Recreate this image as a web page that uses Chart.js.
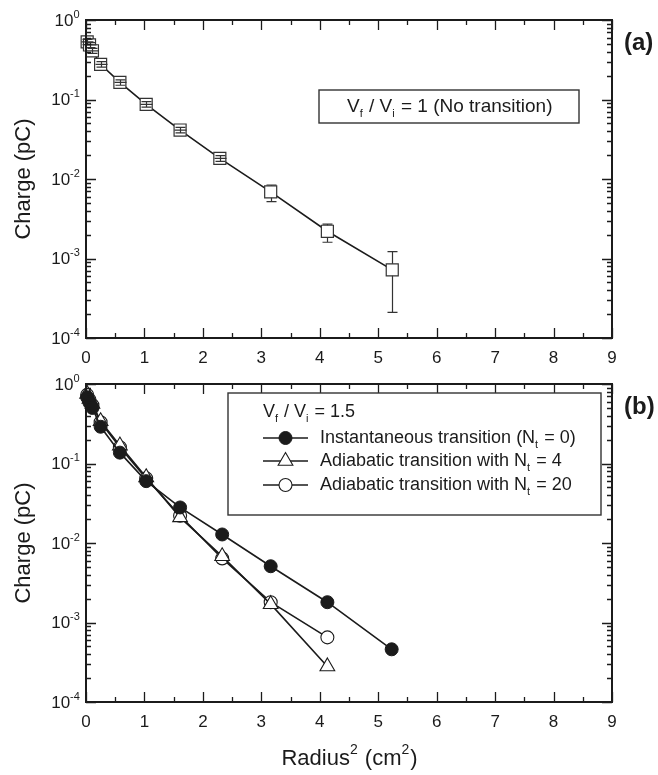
<!DOCTYPE html>
<html>
<head>
<meta charset="utf-8">
<script src="https://cdn.jsdelivr.net/npm/chart.js@4/dist/chart.umd.min.js"></script>
<style>
  body { margin: 0; background: #fff; }
  #wrap { position: relative; width: 658px; height: 775px; }
  canvas { position: absolute; left: 0; top: 0; }
</style>
</head>
<body>
<div id="wrap">
  <canvas id="chart-a" width="658" height="775"></canvas>
  <canvas id="chart-b" width="658" height="775"></canvas>
</div>
<script>
// panel (a): Vf/Vi = 1, no transition
const radiusSqA = [0.02, 0.06, 0.11, 0.25, 0.58, 1.03, 1.61, 2.29, 3.16, 4.13, 5.24];
const chargeA   = [0.53, 0.485, 0.41, 0.277, 0.164, 0.087, 0.0413, 0.0182, 0.0069, 0.0022, 0.00072];
const errLowA   = [0.49, 0.45, 0.38, 0.255, 0.151, 0.080, 0.038, 0.0167, 0.0052, 0.0016, 0.00021];
const errHighA  = [0.57, 0.52, 0.44, 0.30, 0.177, 0.094, 0.0447, 0.0197, 0.0084, 0.0027, 0.00122];

// panel (b): Vf/Vi = 1.5
const radiusSqB = [0.02, 0.06, 0.11, 0.25, 0.58, 1.03, 1.61, 2.33, 3.16, 4.13, 5.23];
const instantB  = [0.68, 0.58, 0.50, 0.29, 0.137, 0.060, 0.028, 0.0128, 0.0051, 0.0018, 0.00046];
const adiab4B   = [0.75, 0.65, 0.56, 0.34, 0.168, 0.067, 0.021, 0.0068, 0.0017, 0.00028];
const adiab20B  = [0.73, 0.63, 0.54, 0.33, 0.16, 0.065, 0.022, 0.0064, 0.0018, 0.00065];

const xTicks = [0, 1, 2, 3, 4, 5, 6, 7, 8, 9];
const yExponents = [-4, -3, -2, -1, 0];

const INK = '#1b1b1b';
const FONT = '"Liberation Sans", Arial, sans-serif';

function pts(xs, ys) {
  return ys.map((y, i) => ({ x: xs[i], y: y }));
}

// draws a run of text pieces; pieces are [text, 'sub'|'sup'|'']
function drawRich(ctx, x, y, pieces, size) {
  ctx.textBaseline = 'middle';
  ctx.textAlign = 'left';
  pieces.forEach(([txt, kind]) => {
    let fs = size, dy = 0;
    if (kind === 'sub') { fs = Math.round(size * 0.6); dy = size * 0.38; }
    if (kind === 'sup') { fs = Math.round(size * 0.62); dy = -size * 0.38; }
    ctx.font = fs + 'px ' + FONT;
    ctx.fillText(txt, x, y + dy);
    x += ctx.measureText(txt).width + (kind ? 1 : 0);
  });
  return x;
}

function richWidth(ctx, pieces, size) {
  let w = 0;
  pieces.forEach(([txt, kind]) => {
    const fs = kind ? Math.round(size * 0.6) : size;
    ctx.font = fs + 'px ' + FONT;
    w += ctx.measureText(txt).width + (kind ? 1 : 0);
  });
  return w;
}

// frame, inward ticks on all four sides, tick labels and titles
const axesPlugin = {
  id: 'axesFrame',
  afterDraw(chart, args, opts) {
    const ctx = chart.ctx;
    const xs = chart.scales.x, ys = chart.scales.y;
    const a = chart.chartArea;
    ctx.save();
    ctx.strokeStyle = INK;
    ctx.fillStyle = INK;

    ctx.lineWidth = 1.3;
    ctx.beginPath();
    // x ticks (majors at integers, minors at halves)
    xTicks.forEach((v, i) => {
      const px = Math.round(xs.getPixelForValue(v)) + 0.5;
      ctx.moveTo(px, a.bottom); ctx.lineTo(px, a.bottom - 10);
      ctx.moveTo(px, a.top); ctx.lineTo(px, a.top + 10);
      if (i < xTicks.length - 1) {
        const mx = Math.round(xs.getPixelForValue(v + 0.5)) + 0.5;
        ctx.moveTo(mx, a.bottom); ctx.lineTo(mx, a.bottom - 5);
        ctx.moveTo(mx, a.top); ctx.lineTo(mx, a.top + 5);
      }
    });
    // y ticks (decades and 2..9 minors)
    yExponents.forEach((e, i) => {
      const py = Math.round(ys.getPixelForValue(Math.pow(10, e))) + 0.5;
      ctx.moveTo(a.left, py); ctx.lineTo(a.left + 10, py);
      ctx.moveTo(a.right, py); ctx.lineTo(a.right - 10, py);
      if (i < yExponents.length - 1) {
        for (let m = 2; m <= 9; m++) {
          const my = Math.round(ys.getPixelForValue(m * Math.pow(10, e))) + 0.5;
          ctx.moveTo(a.left, my); ctx.lineTo(a.left + 5, my);
          ctx.moveTo(a.right, my); ctx.lineTo(a.right - 5, my);
        }
      }
    });
    ctx.stroke();

    ctx.lineWidth = 2;
    ctx.strokeRect(a.left, a.top, a.right - a.left, a.bottom - a.top);

    // x tick labels
    ctx.font = '17px ' + FONT;
    ctx.textAlign = 'center';
    ctx.textBaseline = 'middle';
    xTicks.forEach(v => {
      ctx.fillText(String(v), xs.getPixelForValue(v), a.bottom + 20);
    });

    // y tick labels 10^n
    yExponents.forEach(e => {
      const py = ys.getPixelForValue(Math.pow(10, e));
      const pieces = [['10', ''], [String(e), 'sup']];
      const w = richWidth(ctx, pieces, 17);
      drawRich(ctx, a.left - 6 - w, py + 1, pieces, 17);
    });

    // y title
    ctx.save();
    ctx.translate(24, (a.top + a.bottom) / 2);
    ctx.rotate(-Math.PI / 2);
    ctx.font = '22px ' + FONT;
    ctx.textAlign = 'center';
    ctx.textBaseline = 'middle';
    ctx.fillText('Charge (pC)', 0, 0);
    ctx.restore();

    // x title
    if (opts.xTitle) {
      const pieces = [['Radius', ''], ['2', 'sup'], [' (cm', ''], ['2', 'sup'], [')', '']];
      const w = richWidth(ctx, pieces, 22);
      drawRich(ctx, (a.left + a.right) / 2 - w / 2, a.bottom + 57, pieces, 22);
    }

    // panel tag
    ctx.font = 'bold 24px ' + FONT;
    ctx.textAlign = 'left';
    ctx.textBaseline = 'middle';
    ctx.fillText(opts.tag, a.right + 12, a.top + 23);
    ctx.restore();
  }
};

// vertical error bars for panel (a)
const errorBarPlugin = {
  id: 'errorBars',
  afterDatasetsDraw(chart, args, opts) {
    if (!opts.low) return;
    const ctx = chart.ctx;
    const xs = chart.scales.x, ys = chart.scales.y;
    const half = 6;
    ctx.save();
    ctx.strokeStyle = '#333';
    ctx.lineWidth = 1.2;
    ctx.beginPath();
    opts.xs.forEach((xv, i) => {
      const px = Math.round(xs.getPixelForValue(xv)) + 0.5;
      const pc = ys.getPixelForValue(opts.mid[i]);
      const pLo = ys.getPixelForValue(opts.low[i]);
      const pHi = ys.getPixelForValue(opts.high[i]);
      if (pLo - pc > half) {
        ctx.moveTo(px, pc + half); ctx.lineTo(px, pLo);
        ctx.moveTo(px, pc - half); ctx.lineTo(px, pHi);
      } else {
        ctx.moveTo(px, pHi); ctx.lineTo(px, pLo);
        ctx.moveTo(px - half, pc); ctx.lineTo(px + half, pc);
      }
      ctx.moveTo(px - 5, pLo); ctx.lineTo(px + 5, pLo);
      ctx.moveTo(px - 5, pHi); ctx.lineTo(px + 5, pHi);
    });
    ctx.stroke();
    ctx.restore();
  }
};

// boxed legend with a V_f / V_i header and optional dataset rows
const boxLegendPlugin = {
  id: 'boxLegend',
  afterDraw(chart, args, opts) {
    const ctx = chart.ctx;
    const b = opts.box;
    ctx.save();
    ctx.strokeStyle = '#333';
    ctx.lineWidth = 1.4;
    ctx.fillStyle = '#fff';
    ctx.fillRect(b.x, b.y, b.w, b.h);
    ctx.strokeRect(b.x, b.y, b.w, b.h);
    ctx.fillStyle = INK;
    drawRich(ctx, opts.headX, opts.headY, opts.header, opts.headSize || 18);
    (opts.rows || []).forEach((row, i) => {
      const ds = chart.data.datasets[i];
      const y = opts.rowY[i];
      ctx.strokeStyle = INK;
      ctx.lineWidth = 1.6;
      ctx.beginPath();
      ctx.moveTo(opts.lineX0, y); ctx.lineTo(opts.lineX1, y);
      ctx.stroke();
      ctx.fillStyle = ds.pointBackgroundColor;
      ctx.strokeStyle = ds.pointBorderColor;
      ctx.lineWidth = ds.pointBorderWidth;
      Chart.helpers.drawPoint(ctx, {
        pointStyle: ds.pointStyle, radius: ds.pointRadius,
        rotation: 0, borderWidth: ds.pointBorderWidth
      }, (opts.lineX0 + opts.lineX1) / 2, y);
      ctx.fillStyle = INK;
      drawRich(ctx, opts.textX, y, row, 18);
    });
    ctx.restore();
  }
};

function baseOptions(padding) {
  return {
    responsive: false,
    animation: false,
    devicePixelRatio: 1,
    layout: { padding: padding },
    plugins: { legend: { display: false }, tooltip: { enabled: false } },
    scales: {
      x: { type: 'linear', min: 0, max: 9, display: false },
      y: { type: 'logarithmic', min: 1e-4, max: 1, display: false }
    }
  };
}

const lineStyle = { showLine: true, borderColor: INK, borderWidth: 1.6, clip: false };

// panel (a)
const optsA = baseOptions({ left: 86, right: 46, top: 20, bottom: 437 });
optsA.plugins.axesFrame = { tag: '(a)', xTitle: false };
optsA.plugins.errorBars = { xs: radiusSqA, mid: chargeA, low: errLowA, high: errHighA };
optsA.plugins.boxLegend = {
  box: { x: 319, y: 90, w: 260, h: 33 },
  headX: 347, headY: 107, headSize: 19,
  header: [['V', ''], ['f', 'sub'], [' / V', ''], ['i', 'sub'], [' = 1 (No transition)', '']]
};

new Chart(document.getElementById('chart-a'), {
  type: 'scatter',
  data: {
    datasets: [Object.assign({
      label: 'Vf / Vi = 1',
      data: pts(radiusSqA, chargeA),
      pointStyle: 'rect', pointRadius: 8.5,
      pointBackgroundColor: '#fff', pointBorderColor: '#333', pointBorderWidth: 1.2
    }, lineStyle)]
  },
  options: optsA,
  plugins: [errorBarPlugin, axesPlugin, boxLegendPlugin]
});

// panel (b)
const optsB = baseOptions({ left: 86, right: 46, top: 384, bottom: 73 });
optsB.plugins.axesFrame = { tag: '(b)', xTitle: true };
optsB.plugins.boxLegend = {
  box: { x: 228, y: 393, w: 373, h: 122 },
  headX: 263, headY: 412,
  header: [['V', ''], ['f', 'sub'], [' / V', ''], ['i', 'sub'], [' = 1.5', '']],
  lineX0: 263, lineX1: 308, textX: 320,
  rowY: [438, 461, 485],
  rows: [
    [['Instantaneous transition (N', ''], ['t', 'sub'], [' = 0)', '']],
    [['Adiabatic transition with N', ''], ['t', 'sub'], [' = 4', '']],
    [['Adiabatic transition with N', ''], ['t', 'sub'], [' = 20', '']]
  ]
};

new Chart(document.getElementById('chart-b'), {
  type: 'scatter',
  data: {
    datasets: [
      Object.assign({
        label: 'Instantaneous transition (Nt = 0)',
        data: pts(radiusSqB, instantB),
        pointStyle: 'circle', pointRadius: 6.5,
        pointBackgroundColor: INK, pointBorderColor: INK, pointBorderWidth: 1
      }, lineStyle),
      Object.assign({
        label: 'Adiabatic transition with Nt = 4',
        data: pts(radiusSqB, adiab4B),
        pointStyle: 'triangle', pointRadius: 8.5,
        pointBackgroundColor: '#fff', pointBorderColor: INK, pointBorderWidth: 1.1
      }, lineStyle),
      Object.assign({
        label: 'Adiabatic transition with Nt = 20',
        data: pts(radiusSqB, adiab20B),
        pointStyle: 'circle', pointRadius: 6.5,
        pointBackgroundColor: '#fff', pointBorderColor: INK, pointBorderWidth: 1.1
      }, lineStyle)
    ]
  },
  options: optsB,
  plugins: [axesPlugin, boxLegendPlugin]
});
</script>
</body>
</html>
